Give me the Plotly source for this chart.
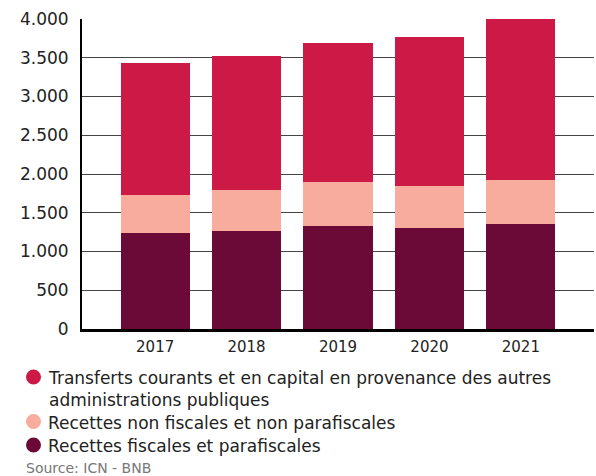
import plotly.graph_objects as go

years = ["2017", "2018", "2019", "2020", "2021"]
fiscales = [1243, 1265, 1332, 1306, 1357]
non_fiscales = [486, 529, 568, 543, 569]
transferts = [1703, 1729, 1790, 1919, 2072]

names = [
    "Transferts courants et en capital en provenance des autres<br>administrations publiques",
    "Recettes non fiscales et non parafiscales",
    "Recettes fiscales et parafiscales",
]
colors = ["#CC1946", "#F7AC9E", "#6B0A37"]
source_text = "Source: ICN - BNB"

font_family = "DejaVu Sans, sans-serif"

# plot area in pixels
L, R, T, B = 82, 594, 19, 329
W, H = 596, 476


def px(x):
    return (x - L) / (R - L)


def py(y):
    return (B - y) / (B - T)


fig = go.Figure()
for vals, name, col in [(fiscales, names[2], colors[2]),
                        (non_fiscales, names[1], colors[1]),
                        (transferts, names[0], colors[0])]:
    fig.add_trace(go.Bar(x=years, y=vals, name=name, marker_color=col,
                         marker_line_width=0, showlegend=False))

# custom legend: circle shapes + text annotations
legend_rows = [377, 421.5, 445]
shapes = []
annotations = []
for name, col, yc in zip(names, colors, legend_rows):
    shapes.append(dict(type="circle", xref="paper", yref="paper",
                       xsizemode="pixel", ysizemode="pixel",
                       xanchor=px(33.5), yanchor=py(yc),
                       x0=-7.5, x1=7.5, y0=-7.5, y1=7.5,
                       fillcolor=col, line_width=0))
    annotations.append(dict(text=name, xref="paper", yref="paper",
                            x=px(46), y=py(yc - 11), xanchor="left", yanchor="top",
                            align="left", showarrow=False,
                            font=dict(size=17, color="#222222", family=font_family)))
annotations.append(dict(text=source_text, xref="paper", yref="paper",
                        x=px(24), y=py(468), xanchor="left", yanchor="middle",
                        showarrow=False,
                        font=dict(size=14, color="#777777", family=font_family)))

fig.update_layout(
    width=W, height=H,
    barmode="stack", bargap=0.245,
    separators=",.",
    plot_bgcolor="white", paper_bgcolor="white",
    margin=dict(l=L, r=W - R, t=T, b=H - B, autoexpand=False),
    font=dict(family=font_family, size=16, color="#222222"),
    xaxis=dict(type="category", range=[-0.8, 4.8], showgrid=False,
               showline=True, linecolor="black", linewidth=3,
               ticks="", ticklabelstandoff=2, tickfont=dict(size=15)),
    yaxis=dict(range=[0, 4000], dtick=500, tickformat=",d",
               showgrid=True, gridcolor="#444444", gridwidth=1,
               showline=True, linecolor="black", linewidth=2,
               zeroline=False, ticks="", ticklabelstandoff=8,
               tickfont=dict(size=17)),
    showlegend=False,
    shapes=shapes,
    annotations=annotations,
)

fig.write_html("out.html", config={"displayModeBar": False},
               post_script="document.body.style.margin='0';")
